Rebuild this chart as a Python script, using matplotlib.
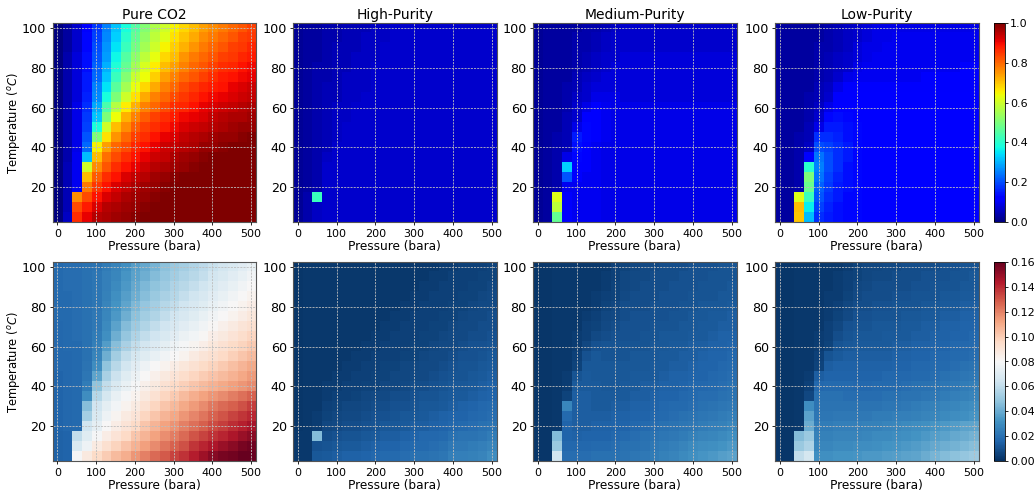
import matplotlib
matplotlib.use('Agg')
import matplotlib.pyplot as plt
import numpy as np

W, H = 1034, 494

pressure = [0, 25, 50, 75, 100, 125, 150, 175, 200, 225, 250, 275, 300, 325, 350, 375, 400, 425, 450, 475, 500]
temperature = [5, 10, 15, 20, 25, 30, 35, 40, 45, 50, 55, 60, 65, 70, 75, 80, 85, 90, 95, 100]
titles = ['Pure CO2', 'High-Purity', 'Medium-Purity', 'Low-Purity']

# rows go from 5 C up to 100 C, columns from 0 to 500 bara
pure_top = [
    [.00,.06,.86,.91,.95,.96,.97,.98,.99,1,1,1,1,1,1,1,1,1,1,1,1],
    [.00,.05,.83,.88,.92,.95,.96,.97,.98,.99,1,1,1,1,1,1,1,1,1,1,1],
    [.00,.05,.76,.83,.89,.92,.94,.96,.97,.98,.99,1,1,1,1,1,1,1,1,1,1],
    [.00,.05,.10,.78,.85,.89,.92,.94,.96,.97,.98,.99,1,1,1,1,1,1,1,1,1],
    [.00,.05,.10,.71,.81,.86,.89,.92,.94,.95,.97,.98,.99,1,1,1,1,1,1,1,1],
    [.00,.05,.10,.60,.76,.82,.86,.89,.91,.93,.95,.96,.97,.98,.99,1,1,1,1,1,1],
    [.00,.04,.10,.31,.71,.79,.83,.86,.89,.91,.93,.94,.96,.97,.98,.99,1,1,1,1,1],
    [.00,.04,.09,.23,.65,.74,.80,.83,.87,.89,.91,.93,.94,.95,.96,.98,.98,.99,1,1,1],
    [.00,.04,.09,.21,.50,.67,.75,.80,.84,.86,.89,.91,.92,.94,.95,.96,.97,.98,.98,.99,1],
    [.00,.04,.09,.19,.38,.60,.71,.76,.81,.84,.86,.88,.90,.92,.93,.94,.95,.96,.97,.98,.98],
    [.00,.04,.09,.18,.32,.50,.64,.72,.77,.81,.84,.86,.88,.90,.91,.92,.94,.95,.96,.96,.97],
    [.00,.04,.09,.17,.29,.44,.57,.66,.72,.77,.80,.83,.86,.87,.89,.91,.92,.93,.94,.95,.96],
    [.00,.04,.08,.16,.26,.38,.50,.60,.67,.73,.77,.80,.83,.85,.87,.89,.90,.91,.92,.93,.94],
    [.00,.04,.08,.15,.25,.35,.46,.55,.63,.68,.73,.77,.80,.83,.85,.87,.88,.89,.91,.92,.93],
    [.00,.04,.08,.15,.23,.32,.42,.51,.59,.64,.69,.74,.77,.80,.82,.84,.86,.88,.89,.90,.91],
    [.00,.04,.08,.14,.22,.30,.39,.47,.55,.61,.66,.71,.74,.77,.80,.82,.84,.86,.87,.89,.90],
    [.00,.04,.08,.14,.21,.28,.37,.45,.52,.58,.63,.68,.71,.75,.78,.80,.82,.84,.85,.87,.88],
    [.00,.03,.07,.13,.20,.27,.35,.42,.49,.55,.60,.65,.69,.72,.75,.78,.80,.82,.84,.85,.87],
    [.00,.03,.07,.13,.19,.26,.33,.40,.47,.53,.58,.62,.67,.70,.73,.76,.78,.80,.82,.84,.85],
    [.00,.03,.07,.12,.18,.25,.32,.38,.45,.51,.56,.60,.65,.68,.71,.74,.76,.78,.80,.82,.84],
]
high_top = [
    [.02,.04,.06,.07,.07,.07,.07,.07,.07,.07,.07,.07,.07,.07,.07,.07,.07,.07,.07,.07,.07],
    [.02,.04,.06,.07,.07,.07,.07,.07,.07,.07,.07,.07,.07,.07,.07,.07,.07,.07,.07,.07,.07],
    [.02,.04,.42,.07,.07,.07,.07,.07,.07,.07,.07,.07,.07,.07,.07,.07,.07,.07,.07,.07,.07],
    [.02,.03,.04,.07,.07,.07,.07,.07,.07,.07,.07,.07,.07,.07,.07,.07,.07,.07,.07,.07,.07],
    [.02,.03,.04,.07,.07,.07,.07,.07,.07,.07,.07,.07,.07,.07,.07,.07,.07,.07,.07,.07,.07],
    [.02,.03,.04,.07,.07,.07,.07,.07,.07,.07,.07,.07,.07,.07,.07,.07,.07,.07,.07,.07,.07],
    [.02,.03,.04,.06,.07,.07,.07,.07,.07,.07,.07,.07,.07,.07,.07,.07,.07,.07,.07,.07,.07],
    [.02,.03,.04,.05,.07,.07,.07,.07,.07,.07,.07,.07,.07,.07,.07,.07,.07,.07,.07,.07,.07],
    [.02,.03,.04,.05,.06,.07,.07,.07,.07,.07,.07,.07,.07,.07,.07,.07,.07,.07,.07,.07,.07],
    [.02,.03,.04,.05,.06,.07,.07,.07,.07,.07,.07,.07,.07,.07,.07,.07,.07,.07,.07,.07,.07],
    [.02,.03,.04,.05,.06,.06,.07,.07,.07,.07,.07,.07,.07,.07,.07,.07,.07,.07,.07,.07,.07],
    [.02,.03,.04,.05,.06,.06,.07,.07,.07,.07,.07,.07,.07,.07,.07,.07,.07,.07,.07,.07,.07],
    [.02,.03,.04,.05,.05,.06,.06,.07,.07,.07,.07,.07,.07,.07,.07,.07,.07,.07,.07,.07,.07],
    [.02,.03,.04,.05,.05,.06,.06,.06,.07,.07,.07,.07,.07,.07,.07,.07,.07,.07,.07,.07,.07],
    [.02,.03,.04,.04,.05,.06,.06,.06,.07,.07,.07,.07,.07,.07,.07,.07,.07,.07,.07,.07,.07],
    [.02,.03,.04,.04,.05,.05,.06,.06,.07,.07,.07,.07,.07,.07,.07,.07,.07,.07,.07,.07,.07],
    [.02,.03,.03,.04,.05,.05,.06,.06,.06,.07,.07,.07,.07,.07,.07,.07,.07,.07,.07,.07,.07],
    [.02,.03,.03,.04,.05,.05,.05,.06,.06,.07,.07,.07,.07,.07,.07,.07,.07,.07,.07,.07,.07],
    [.02,.03,.03,.04,.04,.05,.05,.06,.06,.06,.07,.07,.07,.07,.07,.07,.07,.07,.07,.07,.07],
    [.02,.03,.03,.04,.04,.05,.05,.05,.06,.06,.07,.07,.07,.07,.07,.07,.07,.07,.07,.07,.07],
]
medium_top = [
    [.02,.03,.47,.11,.10,.10,.10,.09,.09,.09,.09,.09,.09,.09,.09,.09,.09,.09,.09,.09,.09],
    [.02,.03,.58,.11,.10,.10,.10,.09,.09,.09,.09,.09,.09,.09,.09,.09,.09,.09,.09,.09,.09],
    [.02,.03,.62,.11,.10,.10,.10,.09,.09,.09,.09,.09,.09,.09,.09,.09,.09,.09,.09,.09,.09],
    [.02,.03,.04,.10,.10,.10,.10,.09,.09,.09,.09,.09,.09,.09,.09,.09,.09,.09,.09,.09,.09],
    [.02,.03,.04,.21,.11,.10,.10,.09,.09,.09,.09,.09,.09,.09,.09,.09,.09,.09,.09,.09,.09],
    [.02,.03,.04,.33,.12,.11,.10,.09,.09,.09,.09,.09,.09,.09,.09,.09,.09,.09,.09,.09,.09],
    [.02,.03,.04,.09,.13,.11,.10,.09,.09,.09,.09,.09,.09,.09,.09,.09,.09,.09,.09,.09,.09],
    [.02,.03,.04,.05,.14,.12,.10,.09,.09,.09,.09,.09,.09,.09,.09,.09,.09,.09,.09,.09,.09],
    [.02,.03,.04,.05,.15,.13,.11,.10,.09,.09,.09,.09,.09,.09,.09,.09,.09,.09,.09,.09,.09],
    [.02,.03,.03,.05,.09,.13,.11,.10,.09,.09,.09,.09,.09,.09,.09,.09,.09,.09,.09,.09,.09],
    [.02,.03,.03,.05,.07,.12,.11,.10,.09,.09,.09,.09,.09,.09,.09,.09,.09,.09,.09,.09,.09],
    [.02,.03,.03,.04,.07,.09,.11,.10,.09,.09,.09,.09,.09,.09,.09,.09,.09,.09,.09,.09,.09],
    [.02,.03,.03,.04,.06,.07,.09,.09,.09,.08,.08,.08,.08,.08,.08,.08,.08,.08,.08,.08,.08],
    [.02,.03,.03,.04,.05,.07,.08,.08,.08,.08,.08,.08,.08,.08,.08,.08,.08,.08,.08,.08,.08],
    [.02,.03,.03,.03,.05,.06,.07,.08,.08,.08,.08,.08,.08,.08,.08,.08,.08,.08,.08,.08,.08],
    [.02,.03,.03,.03,.04,.05,.06,.07,.08,.08,.08,.08,.08,.08,.08,.08,.08,.08,.08,.08,.08],
    [.02,.03,.03,.03,.04,.05,.06,.07,.07,.08,.08,.08,.08,.08,.08,.08,.08,.08,.08,.08,.08],
    [.02,.03,.03,.03,.04,.04,.05,.06,.07,.07,.07,.07,.07,.07,.07,.07,.07,.07,.07,.07,.07],
    [.02,.03,.03,.03,.04,.04,.05,.06,.07,.07,.07,.07,.07,.07,.07,.07,.07,.07,.07,.07,.07],
    [.02,.03,.03,.03,.03,.04,.04,.05,.06,.07,.07,.07,.07,.07,.07,.07,.07,.07,.07,.07,.07],
]
low_top = [
    [.03,.03,.70,.31,.17,.15,.14,.13,.13,.12,.12,.12,.12,.12,.12,.12,.12,.12,.12,.12,.12],
    [.03,.03,.71,.36,.19,.16,.14,.13,.13,.12,.12,.12,.12,.12,.12,.12,.12,.12,.12,.12,.12],
    [.03,.03,.62,.42,.21,.17,.15,.13,.13,.12,.12,.12,.12,.12,.12,.12,.12,.12,.12,.12,.12],
    [.03,.03,.04,.48,.22,.18,.15,.14,.13,.12,.12,.12,.12,.12,.12,.12,.12,.12,.12,.12,.12],
    [.03,.03,.04,.50,.24,.19,.16,.14,.13,.12,.12,.12,.12,.12,.12,.12,.12,.12,.12,.12,.12],
    [.03,.03,.04,.40,.25,.20,.17,.14,.13,.12,.12,.12,.12,.12,.12,.12,.12,.12,.12,.12,.12],
    [.03,.03,.04,.12,.24,.20,.17,.15,.13,.12,.12,.12,.12,.12,.12,.12,.12,.12,.12,.12,.12],
    [.03,.03,.04,.06,.20,.19,.17,.15,.13,.12,.12,.12,.12,.12,.12,.12,.12,.12,.12,.12,.12],
    [.03,.03,.04,.05,.17,.17,.16,.14,.13,.12,.12,.12,.12,.12,.12,.12,.12,.12,.12,.12,.12],
    [.03,.03,.03,.05,.09,.15,.15,.14,.13,.12,.12,.12,.12,.12,.12,.12,.12,.12,.12,.12,.12],
    [.03,.03,.03,.04,.07,.13,.14,.13,.12,.12,.12,.12,.12,.12,.12,.12,.12,.12,.12,.12,.12],
    [.03,.03,.03,.04,.06,.09,.12,.12,.12,.12,.12,.12,.12,.12,.12,.12,.12,.12,.12,.12,.12],
    [.03,.03,.03,.04,.05,.07,.11,.12,.12,.12,.12,.12,.12,.12,.12,.12,.12,.12,.12,.12,.12],
    [.03,.03,.03,.03,.05,.06,.09,.11,.11,.11,.11,.11,.11,.11,.11,.11,.11,.11,.11,.11,.11],
    [.03,.03,.03,.03,.04,.05,.07,.09,.10,.10,.10,.10,.10,.10,.10,.11,.11,.11,.11,.11,.11],
    [.03,.03,.03,.03,.04,.05,.06,.07,.09,.10,.10,.10,.10,.10,.10,.10,.10,.10,.10,.11,.11],
    [.03,.03,.03,.03,.04,.05,.06,.07,.08,.09,.10,.10,.10,.10,.10,.10,.10,.10,.10,.10,.10],
    [.03,.03,.03,.03,.04,.04,.05,.06,.08,.09,.09,.10,.10,.10,.10,.10,.10,.10,.10,.10,.10],
    [.03,.03,.03,.03,.03,.04,.05,.06,.07,.08,.09,.09,.10,.10,.10,.10,.10,.10,.10,.10,.10],
    [.03,.03,.03,.03,.03,.04,.05,.06,.07,.08,.09,.09,.09,.09,.09,.09,.09,.09,.09,.09,.09],
]
pure_bottom = [
    [.015,.016,.079,.088,.095,.100,.105,.109,.115,.120,.125,.129,.134,.138,.143,.148,.153,.156,.157,.160,.160],
    [.015,.016,.068,.076,.087,.093,.098,.103,.108,.113,.118,.123,.127,.131,.137,.141,.145,.149,.152,.156,.158],
    [.015,.016,.060,.070,.079,.086,.091,.096,.102,.107,.112,.117,.121,.125,.130,.134,.138,.141,.145,.149,.152],
    [.016,.017,.018,.064,.073,.080,.086,.091,.096,.102,.107,.112,.116,.120,.124,.128,.132,.135,.139,.142,.146],
    [.016,.017,.018,.053,.068,.076,.082,.087,.091,.097,.102,.107,.111,.115,.119,.123,.127,.130,.134,.137,.140],
    [.016,.017,.018,.046,.064,.072,.078,.083,.087,.092,.097,.102,.106,.110,.114,.118,.122,.125,.128,.131,.135],
    [.016,.017,.018,.030,.057,.066,.074,.079,.083,.088,.092,.097,.101,.105,.109,.112,.115,.118,.121,.124,.127],
    [.016,.017,.018,.024,.048,.060,.068,.074,.079,.084,.088,.092,.096,.099,.102,.105,.108,.110,.113,.115,.118],
    [.016,.017,.018,.022,.038,.054,.063,.070,.075,.080,.084,.088,.091,.094,.097,.100,.103,.105,.108,.111,.114],
    [.017,.017,.018,.021,.030,.048,.058,.065,.071,.076,.080,.083,.086,.089,.092,.095,.098,.101,.104,.107,.110],
    [.017,.017,.018,.020,.027,.041,.052,.060,.066,.070,.074,.077,.080,.083,.087,.090,.093,.096,.099,.102,.105],
    [.017,.018,.018,.020,.025,.035,.046,.054,.060,.065,.069,.072,.076,.079,.082,.085,.089,.092,.095,.098,.101],
    [.017,.018,.019,.020,.024,.031,.041,.049,.055,.060,.064,.068,.071,.075,.078,.081,.085,.088,.091,.094,.097],
    [.017,.018,.019,.020,.023,.029,.037,.045,.051,.056,.060,.064,.067,.071,.074,.077,.081,.084,.087,.090,.093],
    [.018,.018,.019,.020,.023,.028,.034,.041,.047,.052,.056,.060,.064,.067,.070,.074,.077,.080,.083,.086,.089],
    [.018,.018,.019,.020,.022,.027,.032,.038,.044,.049,.053,.057,.060,.064,.067,.070,.074,.077,.080,.083,.086],
    [.018,.018,.019,.020,.022,.026,.031,.036,.041,.046,.050,.054,.057,.061,.064,.067,.071,.074,.077,.080,.083],
    [.018,.019,.019,.020,.022,.025,.029,.034,.039,.044,.048,.051,.055,.058,.061,.064,.068,.071,.074,.077,.080],
    [.018,.019,.019,.020,.022,.025,.028,.033,.037,.041,.045,.049,.052,.055,.058,.061,.065,.068,.071,.074,.077],
    [.018,.019,.019,.020,.021,.024,.027,.031,.036,.039,.043,.047,.050,.053,.056,.059,.062,.065,.068,.071,.074],
]
high_bottom = [
    [.003,.003,.012,.013,.014,.015,.015,.016,.017,.018,.018,.019,.020,.020,.021,.022,.025,.025,.026,.027,.030],
    [.003,.003,.010,.011,.012,.013,.013,.014,.015,.016,.016,.017,.018,.018,.019,.020,.023,.023,.024,.025,.027],
    [.003,.003,.045,.009,.010,.011,.011,.012,.013,.014,.014,.015,.016,.017,.017,.018,.020,.021,.021,.022,.024],
    [.002,.003,.004,.007,.008,.009,.009,.010,.011,.012,.012,.013,.014,.014,.015,.016,.017,.018,.019,.020,.021],
    [.002,.003,.004,.006,.007,.008,.008,.009,.010,.010,.011,.012,.012,.013,.014,.015,.016,.016,.017,.018,.019],
    [.002,.003,.003,.005,.006,.007,.007,.008,.009,.009,.010,.010,.011,.012,.012,.013,.014,.015,.016,.017,.018],
    [.002,.003,.003,.004,.005,.005,.006,.007,.008,.008,.009,.009,.010,.011,.011,.012,.013,.013,.014,.015,.016],
    [.002,.003,.003,.004,.004,.005,.005,.006,.006,.007,.007,.008,.009,.009,.010,.011,.012,.012,.013,.014,.015],
    [.002,.003,.003,.003,.004,.004,.005,.005,.006,.006,.007,.007,.008,.008,.009,.010,.011,.011,.012,.013,.014],
    [.002,.003,.003,.003,.003,.004,.004,.005,.005,.006,.006,.007,.007,.008,.008,.009,.010,.011,.011,.012,.013],
    [.002,.003,.003,.003,.003,.003,.004,.004,.005,.005,.005,.006,.006,.007,.008,.008,.009,.010,.010,.011,.012],
    [.002,.003,.003,.003,.003,.003,.003,.004,.004,.005,.005,.005,.006,.006,.007,.008,.008,.009,.010,.010,.011],
    [.002,.003,.003,.003,.003,.003,.003,.003,.004,.004,.005,.005,.005,.006,.006,.007,.008,.008,.009,.009,.010],
    [.002,.003,.003,.003,.003,.003,.003,.003,.003,.004,.004,.005,.005,.005,.006,.006,.007,.008,.008,.009,.009],
    [.002,.003,.003,.003,.003,.003,.003,.003,.003,.003,.004,.004,.005,.005,.005,.006,.006,.007,.008,.008,.009],
    [.002,.003,.003,.003,.003,.003,.003,.003,.003,.003,.003,.004,.004,.005,.005,.005,.006,.006,.007,.008,.008],
    [.002,.003,.003,.003,.003,.003,.003,.003,.003,.003,.003,.003,.004,.004,.005,.005,.005,.006,.006,.007,.008],
    [.002,.003,.003,.003,.003,.003,.003,.003,.003,.003,.003,.003,.003,.004,.004,.005,.005,.005,.006,.006,.007],
    [.002,.003,.003,.003,.003,.003,.003,.003,.003,.003,.003,.003,.003,.003,.004,.004,.005,.005,.005,.006,.006],
    [.002,.003,.003,.003,.003,.003,.003,.003,.003,.003,.003,.003,.003,.003,.003,.004,.004,.005,.005,.005,.006],
]
medium_bottom = [
    [.002,.002,.065,.019,.019,.019,.020,.020,.020,.021,.022,.023,.024,.026,.027,.029,.031,.033,.034,.036,.037],
    [.002,.002,.050,.017,.017,.017,.018,.018,.019,.020,.020,.021,.023,.024,.025,.027,.029,.030,.031,.032,.034],
    [.002,.002,.045,.016,.015,.016,.016,.016,.017,.018,.019,.020,.021,.022,.023,.024,.026,.027,.028,.029,.031],
    [.002,.002,.003,.016,.014,.014,.015,.015,.016,.016,.017,.018,.019,.020,.021,.022,.023,.024,.025,.026,.028],
    [.002,.002,.003,.018,.014,.014,.014,.014,.015,.015,.016,.016,.017,.018,.019,.020,.021,.022,.023,.024,.025],
    [.002,.002,.003,.028,.014,.014,.013,.013,.014,.014,.015,.015,.016,.017,.018,.018,.019,.020,.021,.022,.023],
    [.002,.002,.003,.006,.014,.014,.013,.013,.013,.013,.014,.014,.015,.016,.016,.017,.018,.019,.019,.020,.021],
    [.002,.002,.003,.004,.013,.013,.013,.012,.012,.013,.013,.014,.014,.015,.015,.016,.017,.017,.018,.019,.020],
    [.002,.002,.003,.004,.011,.013,.012,.012,.012,.012,.013,.013,.013,.014,.015,.015,.016,.016,.017,.018,.019],
    [.002,.002,.003,.003,.006,.012,.012,.012,.012,.012,.012,.012,.013,.013,.014,.014,.015,.016,.016,.017,.018],
    [.002,.002,.003,.003,.005,.010,.012,.011,.011,.011,.012,.012,.012,.013,.013,.014,.014,.015,.016,.016,.017],
    [.002,.002,.003,.003,.004,.007,.010,.011,.011,.011,.011,.011,.012,.012,.013,.013,.014,.014,.015,.015,.016],
    [.002,.002,.003,.003,.004,.005,.008,.009,.010,.010,.010,.011,.011,.012,.012,.012,.013,.013,.014,.015,.015],
    [.002,.002,.003,.003,.003,.005,.006,.008,.009,.010,.010,.010,.011,.011,.011,.012,.012,.013,.013,.014,.014],
    [.002,.002,.003,.003,.003,.004,.005,.007,.008,.009,.010,.010,.010,.010,.011,.011,.012,.012,.013,.013,.014],
    [.002,.002,.003,.003,.003,.003,.004,.006,.007,.009,.009,.009,.010,.010,.010,.011,.011,.012,.012,.012,.013],
    [.002,.002,.003,.003,.003,.003,.004,.005,.006,.008,.009,.009,.009,.010,.010,.010,.011,.011,.011,.012,.012],
    [.002,.002,.003,.003,.003,.003,.003,.004,.006,.007,.008,.009,.009,.009,.010,.010,.010,.011,.011,.011,.012],
    [.002,.002,.003,.003,.003,.003,.003,.004,.005,.007,.008,.008,.009,.009,.009,.010,.010,.010,.011,.011,.011],
    [.002,.002,.003,.003,.003,.003,.003,.003,.005,.006,.007,.008,.008,.009,.009,.009,.010,.010,.010,.011,.011],
]
low_bottom = [
    [.002,.002,.060,.066,.031,.031,.032,.032,.033,.034,.034,.035,.036,.037,.038,.040,.043,.045,.047,.049,.051],
    [.002,.002,.050,.055,.028,.028,.029,.029,.030,.030,.031,.032,.033,.034,.035,.037,.039,.041,.042,.044,.046],
    [.002,.002,.045,.050,.026,.026,.027,.027,.027,.028,.029,.029,.030,.031,.032,.034,.036,.037,.039,.040,.042],
    [.002,.002,.003,.040,.024,.024,.025,.025,.025,.026,.026,.027,.028,.029,.030,.031,.033,.034,.035,.037,.038],
    [.002,.002,.003,.037,.022,.022,.023,.023,.023,.023,.024,.024,.025,.025,.026,.027,.028,.029,.030,.031,.033],
    [.002,.002,.003,.030,.021,.021,.021,.021,.021,.021,.021,.022,.022,.023,.024,.025,.026,.027,.028,.029,.030],
    [.002,.002,.003,.007,.020,.020,.020,.019,.019,.019,.019,.020,.020,.021,.021,.022,.023,.024,.025,.026,.027],
    [.002,.002,.003,.005,.017,.018,.018,.018,.017,.017,.018,.018,.018,.019,.020,.020,.021,.022,.023,.024,.025],
    [.002,.002,.003,.004,.014,.016,.016,.016,.016,.016,.016,.017,.017,.017,.018,.018,.019,.020,.021,.022,.023],
    [.002,.002,.003,.003,.006,.014,.015,.015,.015,.015,.015,.015,.016,.016,.017,.017,.018,.018,.019,.020,.021],
    [.002,.002,.003,.003,.005,.011,.013,.014,.014,.014,.014,.014,.015,.015,.016,.016,.017,.017,.018,.018,.019],
    [.002,.002,.003,.003,.004,.006,.011,.012,.013,.013,.013,.013,.014,.014,.015,.015,.016,.016,.017,.017,.018],
    [.002,.002,.003,.003,.004,.005,.009,.011,.012,.012,.012,.013,.013,.013,.014,.014,.015,.015,.016,.016,.017],
    [.002,.002,.003,.003,.003,.005,.007,.010,.011,.011,.012,.012,.012,.013,.013,.014,.014,.015,.015,.016,.016],
    [.002,.002,.003,.003,.003,.004,.006,.008,.010,.010,.011,.011,.011,.012,.012,.013,.013,.014,.014,.015,.015],
    [.002,.002,.003,.003,.003,.004,.005,.007,.009,.009,.010,.010,.011,.011,.011,.012,.012,.013,.013,.014,.014],
    [.002,.002,.003,.003,.003,.004,.004,.006,.008,.009,.009,.009,.010,.010,.011,.011,.011,.012,.012,.013,.013],
    [.002,.002,.003,.003,.003,.003,.004,.005,.007,.008,.009,.009,.009,.009,.010,.010,.011,.011,.011,.012,.012],
    [.002,.002,.003,.003,.003,.003,.004,.005,.006,.007,.008,.008,.009,.009,.009,.010,.010,.010,.011,.011,.012],
    [.002,.002,.003,.003,.003,.003,.003,.004,.006,.007,.007,.008,.008,.009,.009,.009,.009,.010,.010,.011,.011],
]

top_data = [pure_top, high_top, medium_top, low_top]
bottom_data = [pure_bottom, high_bottom, medium_bottom, low_bottom]

# pixel boxes of the panels, measured on the reference
lefts = [52.5, 293, 533, 775]
PANEL_W = 203.5
rows = [(23, 222), (262, 461)]


def px_axes(fig, left, right, top, bottom):
    return fig.add_axes([left / W, 1 - bottom / H, (right - left) / W, (bottom - top) / H])


def draw_panel(ax, values, cmap, vmax, title=None, ylabel=False):
    extent = [pressure[0] - 12.5, pressure[-1] + 12.5, temperature[0] - 2.5, temperature[-1] + 2.5]
    im = ax.imshow(np.array(values), origin='lower', extent=extent, aspect='auto',
                   cmap=cmap, vmin=0, vmax=vmax, interpolation='nearest')
    ax.set_xticks([0, 100, 200, 300, 400, 500])
    ax.set_yticks([20, 40, 60, 80, 100])
    ax.tick_params(axis='x', labelsize=8, length=2.5, width=0.6, pad=2.5)
    ax.tick_params(axis='y', labelsize=9.2, length=2.5, width=0.6, pad=2)
    ax.grid(True, color='#bdbdbd', linestyle=(0, (2.5, 1.3)), linewidth=0.6)
    ax.set_axisbelow(False)
    ax.set_xlabel('Pressure (bara)', fontsize=8.7, labelpad=1)
    if ylabel:
        ax.set_ylabel(r'Temperature ($^oC$)', fontsize=8.3)
        ax.yaxis.set_label_coords(-0.15, 0.5)
    if title:
        ax.set_title(title, fontsize=10, pad=3)
    for s in ax.spines.values():
        s.set_color('#555555')
        s.set_linewidth(0.8)
    return im


fig = plt.figure(figsize=(W / 100, H / 100), dpi=100)

for i, left in enumerate(lefts):
    ax = px_axes(fig, left, left + PANEL_W, *rows[0])
    im_top = draw_panel(ax, top_data[i], 'jet', 1.0, title=titles[i], ylabel=(i == 0))
    ax = px_axes(fig, left, left + PANEL_W, *rows[1])
    im_bot = draw_panel(ax, bottom_data[i], 'RdBu_r', 0.16, ylabel=(i == 0))

cax = px_axes(fig, 994, 1005, *rows[0])
cb = fig.colorbar(im_top, cax=cax, ticks=[0, 0.2, 0.4, 0.6, 0.8, 1.0])
cb.ax.tick_params(labelsize=8, length=2, width=0.6, pad=1.5)
cb.outline.set_linewidth(0.6)

cax = px_axes(fig, 994, 1005, *rows[1])
cb = fig.colorbar(im_bot, cax=cax, ticks=[0, 0.02, 0.04, 0.06, 0.08, 0.10, 0.12, 0.14, 0.16])
cb.ax.set_yticklabels(['0.00', '0.02', '0.04', '0.06', '0.08', '0.10', '0.12', '0.14', '0.16'])
cb.ax.tick_params(labelsize=8, length=2, width=0.6, pad=1.5)
cb.outline.set_linewidth(0.6)

fig.savefig('out.png', dpi=100)
